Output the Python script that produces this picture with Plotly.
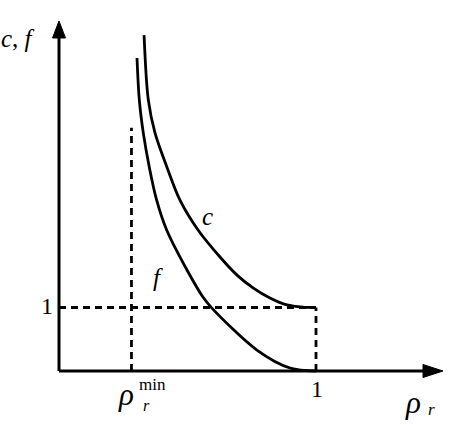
import plotly.graph_objects as go

# ---- data ----
rho_c = [0.331, 0.3475, 0.3735, 0.420, 0.4708, 0.541, 0.6265, 0.6926, 0.755, 0.821, 0.887, 0.949, 1.0]
c_vals = [5.29, 4.27, 3.75, 3.21, 2.69, 2.22, 1.795, 1.51, 1.31, 1.15, 1.04, 1.005, 1.0]
rho_f = [0.3035, 0.3125, 0.328, 0.3514, 0.380, 0.419, 0.498, 0.560, 0.595, 0.770, 0.899, 1.0]
f_vals = [4.93, 4.27, 3.75, 3.21, 2.69, 2.22, 1.59, 1.165, 0.99, 0.33, 0.047, 0.0]
rho_min = 0.282
rho_min_top = 3.83
one = 1.0

W, H = 451, 425
X0, SX = 59.0, 257.0      # px of rho=0, px per unit
Y0, SY = 371.0, 63.5      # px of value 0, px per unit

def px2x(p):
    return (p - X0) / SX

def py2y(p):
    return (Y0 - p) / SY

FONT = "Liberation Serif, Times New Roman, serif"
fig = go.Figure()

curve = dict(color="black", width=2.8, shape="spline", smoothing=0.9)
fig.add_trace(go.Scatter(x=rho_c, y=c_vals, mode="lines", line=curve, hoverinfo="skip"))
fig.add_trace(go.Scatter(x=rho_f, y=f_vals, mode="lines", line=curve, hoverinfo="skip"))

dash = dict(color="black", width=2.8, dash="7px,5px")
fig.add_trace(go.Scatter(x=[rho_min, rho_min], y=[0, rho_min_top], mode="lines", line=dash, hoverinfo="skip"))
fig.add_trace(go.Scatter(x=[0, one], y=[one, one], mode="lines", line=dash, hoverinfo="skip"))
fig.add_trace(go.Scatter(x=[one, one], y=[0, one], mode="lines", line=dash, hoverinfo="skip"))

shapes = []
shapes.append(dict(type="line", x0=0, y0=0, x1=px2x(430), y1=0, line=dict(color="black", width=3)))
shapes.append(dict(type="line", x0=0, y0=0, x1=0, y1=py2y(30), line=dict(color="black", width=3)))
def tri(pts):
    s = "M " + " L ".join(f"{px2x(a)},{py2y(b)}" for a, b in pts) + " Z"
    return dict(type="path", path=s, fillcolor="black", line=dict(color="black", width=1))
shapes.append(tri([(443, 371), (423, 364.5), (423, 377.5)]))
shapes.append(tri([(59, 21), (52.5, 38), (65.5, 38)]))

ann = []
def txt(px, py, t, size=22, xa="center", ya="middle"):
    ann.append(dict(x=px2x(px), y=py2y(py), text=t, showarrow=False, xanchor=xa, yanchor=ya,
                    borderpad=0, font=dict(family=FONT, size=size, color="black")))

txt(18, 38, "<i>c</i>, <i>f</i>", 25)
txt(47, 306, "1", 24)
txt(317, 389, "1", 24)
txt(126, 394, "<i>ρ</i>", 31)
txt(146, 405, "<i>r</i>", 16)
txt(152, 384, "min", 17)
txt(413, 402, "<i>ρ</i>", 31)
txt(431, 409, "<i>r</i>", 17)
txt(207, 216, "<i>c</i>", 25)
txt(158, 277, "<i>f</i>", 25)

fig.update_layout(
    width=W, height=H, margin=dict(l=0, r=0, t=0, b=0),
    paper_bgcolor="white", plot_bgcolor="white", showlegend=False,
    xaxis=dict(range=[px2x(0), px2x(W)], visible=False, fixedrange=True),
    yaxis=dict(range=[py2y(H), py2y(0)], visible=False, fixedrange=True),
    shapes=shapes, annotations=ann,
)
fig.write_html("out.html")
